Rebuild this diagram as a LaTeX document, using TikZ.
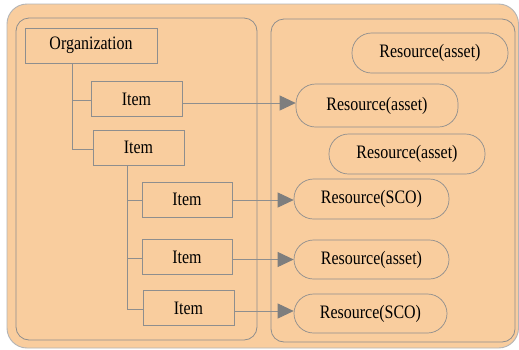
\documentclass[tikz,border=0pt]{standalone}
\usepackage{fontspec}
\setmainfont[FakeStretch=0.84]{Liberation Serif}
\usetikzlibrary{arrows.meta}
\definecolor{peach}{HTML}{F9CD9E}
\definecolor{edge}{HTML}{8E8E8E}
\definecolor{outer}{HTML}{B4B4B4}
\definecolor{tip}{HTML}{7E7E7E}
\tikzset{
  itembox/.style={draw=edge, line width=0.8pt, minimum width=#1, minimum height=35, inner sep=0pt, font=\fontsize{19}{19}\selectfont},
  itembox/.default=91,
  resbox/.style={draw=edge, line width=0.7pt, rounded corners=19.5, minimum width=#1, minimum height=40, inner sep=0pt, font=\fontsize{19}{19}\selectfont},
  resbox/.default=155,
  conn/.style={draw=edge, line width=0.8pt},
  arr/.style={conn, -{Triangle[length=16pt, width=15pt, fill=tip, color=tip]}},
}
\begin{document}
\begin{tikzpicture}[x=1pt, y=-1pt]
\useasboundingbox (0,0) rectangle (519,349);
\fill[white] (0,0) rectangle (519,349);
% outer frame
\draw[outer, fill=peach, line width=0.9pt, rounded corners=20] (7,4) rectangle (518.5,348);
% panels
\draw[edge, line width=0.8pt, rounded corners=13] (16,18) rectangle (257,340);
\draw[edge, line width=0.8pt, rounded corners=13] (271,19) rectangle (515,342);
% tree nodes
\node[itembox=132] (org) at (91,45.5) {Organization};
\node[itembox] (i1) at (136.5,99) {Item};
\node[itembox] (i2) at (138.5,147.5) {Item};
\node[itembox=90] (i3) at (187,199.5) {Item};
\node[itembox=90] (i4) at (187,257) {Item};
\node[itembox=91] (i5) at (188.5,308) {Item};
% resources
\node[resbox=156] (r1) at (430,53) {Resource(asset)};
\node[resbox=162,minimum height=43] (r2) at (377,105.5) {Resource(asset)};
\node[resbox=156] (r3) at (407,154) {Resource(asset)};
\node[resbox=155] (r4) at (371.5,199) {Resource(SCO)};
\node[resbox=155,minimum height=39] (r5) at (371.5,259.5) {Resource(asset)};
\node[resbox=153,minimum height=39] (r6) at (370.5,313.5) {Resource(SCO)};
% tree connectors
\coordinate (t1) at (72,149);
\draw[conn] (org.south -| t1) -- (t1) -- (i2.west |- t1);
\draw[conn] (72,100) -- (i1.west |- 0,100);
\coordinate (t2) at (127,309);
\draw[conn] (i2.south -| t2) -- (t2) -- (i5.west |- t2);
\draw[conn] (127,200) -- (i3.west |- 0,200);
\draw[conn] (127,258) -- (i4.west |- 0,258);
% arrows
\draw[arr] (i1.east |- 0,103) -- (r2.west |- 0,103);
\draw[arr] (i3.east |- 0,200) -- (r4.west |- 0,200);
\draw[arr] (i4.east |- 0,259.5) -- (r5.west |- 0,259.5);
\draw[arr] (i5.east |- 0,311) -- (r6.west |- 0,311);
\end{tikzpicture}
\end{document}
